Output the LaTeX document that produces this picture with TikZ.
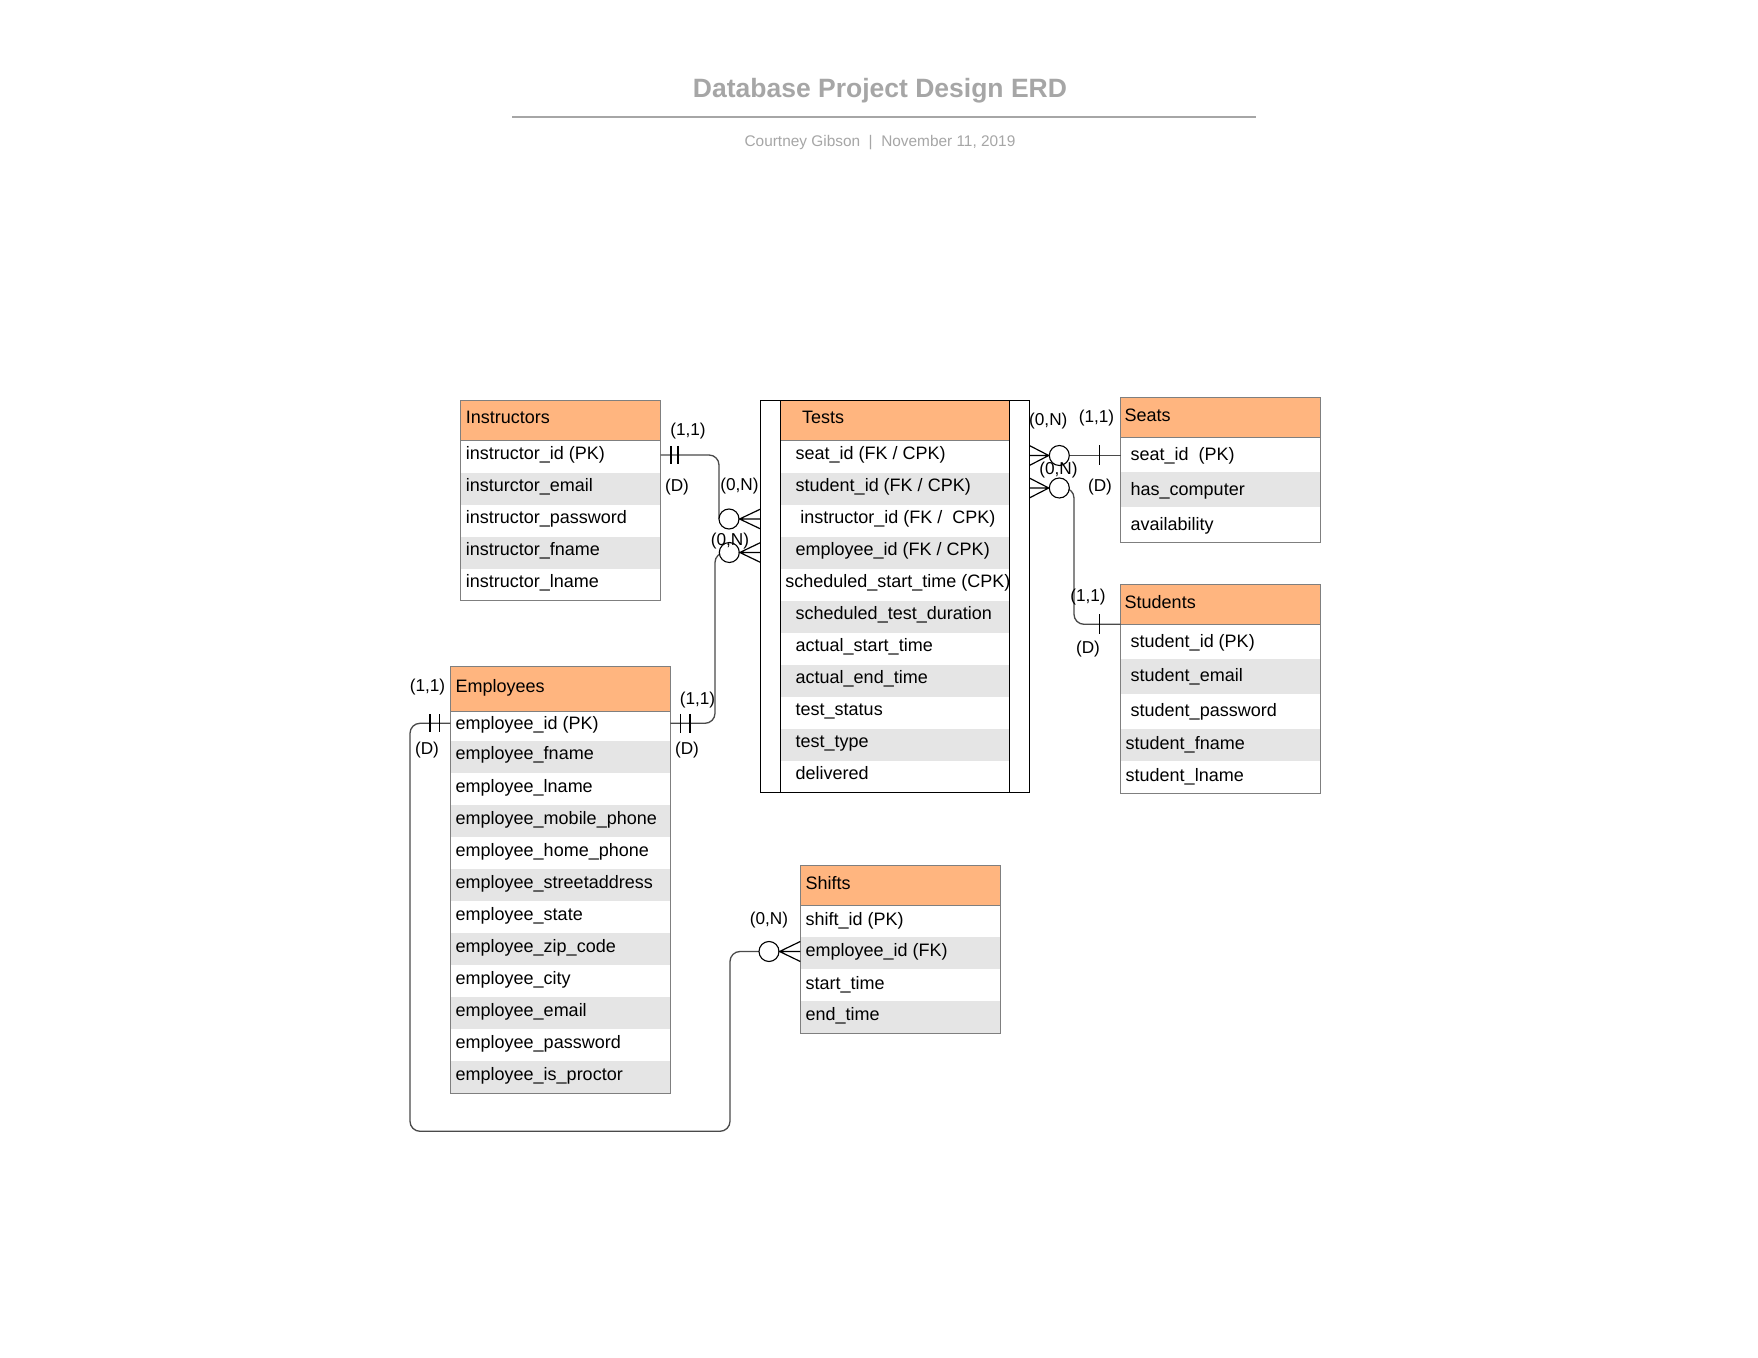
\documentclass[tikz,border=0pt]{standalone}
\usepackage{fontspec}
\setmainfont{Liberation Sans}
\usetikzlibrary{calc}

\definecolor{hdrfill}{HTML}{FFB57F}
\definecolor{stripe}{HTML}{E5E5E5}
\definecolor{boxedge}{HTML}{7F7F7F}
\definecolor{linkgray}{HTML}{4A4A4A}
\definecolor{titlegray}{HTML}{A6A6A6}

% shaded band of a table: left, top, right, bottom, colour
\newcommand\band[5]{\fill[#5] (#1,#2) rectangle (#3,#4);}
% crow's foot: tip on the ring, base point on the table edge
\newcommand\crowfoot[2]{%
  \draw[tick] ($(#2)+(0,-10)$) -- (#1) -- ($(#2)+(0,10)$) (#1) -- (#2);}

\begin{document}
\begin{tikzpicture}[x=0.5pt,y=-0.5pt,
  field/.style={anchor=west, inner sep=0pt, text height=6.5pt, text depth=3.5pt,
                font=\fontsize{9}{11}\selectfont},
  card/.style={inner sep=0pt, text height=6.2pt, text depth=0.5pt,
               font=\fontsize{8.6}{10}\selectfont},
  edgebox/.style={draw=boxedge, line width=0.5pt},
  link/.style={draw=linkgray, line width=0.65pt, rounded corners=5pt},
  tick/.style={draw=black, line width=0.6pt},
  ring/.style={circle, draw=black, line width=0.55pt, fill=white,
               minimum size=10pt, inner sep=0pt},
]
\fill[white] (0,0) rectangle (1758,1358);
\useasboundingbox (0,0) rectangle (1758,1358);

% ---------- heading ----------
\node[font=\bfseries\fontsize{13.25}{15}\selectfont, text=titlegray] (title) at (880,90.8) {Database Project Design ERD};
\draw[titlegray, line width=1pt] (512.4,116.7) -- (1255.7,116.7);
\node[font=\fontsize{7.7}{9}\selectfont, text=titlegray] (byline) at (880,142.2) {Courtney Gibson\ \ |\ \ November 11, 2019};

% ---------- Instructors ----------
\band{460.7}{400.7}{660.7}{440.7}{hdrfill}
\band{460.7}{472.7}{660.7}{504.7}{stripe}
\band{460.7}{536.7}{660.7}{568.7}{stripe}
\draw[edgebox] (460.7,400.7) rectangle (660.7,600.7) (460.7,440.7) -- (660.7,440.7);
\node[field] (ins-h) at (465.5,420.7) {Instructors};
\node[field] (ins-1) at (465.5,456.7) {instructor\_id (PK)};
\node[field] (ins-2) at (465.5,488.7) {insturctor\_email};
\node[field] (ins-3) at (465.5,520.7) {instructor\_password};
\node[field] (ins-4) at (465.5,552.7) {instructor\_fname};
\node[field] (ins-5) at (465.5,584.7) {instructor\_lname};
\coordinate (ins-pk) at (660.7,455);

% ---------- Tests ----------
\band{780.7}{400.7}{1009.3}{440.7}{hdrfill}
\band{780.7}{472.7}{1009.3}{504.7}{stripe}
\band{780.7}{536.7}{1009.3}{568.7}{stripe}
\band{780.7}{600.7}{1009.3}{632.7}{stripe}
\band{780.7}{664.7}{1009.3}{696.7}{stripe}
\band{780.7}{728.7}{1009.3}{760.7}{stripe}
\draw[edgebox] (780.7,440.7) -- (1009.3,440.7);
\draw[black, line width=0.6pt] (760.7,400.7) rectangle (1029.3,792.7)
  (780.7,400.7) -- (780.7,792.7) (1009.3,400.7) -- (1009.3,792.7);
\coordinate (tests-ow) at (760.7,400.7);
\coordinate (tests-oe) at (1029.3,400.7);
\node[field] (tst-h)  at (801.7,420.7) {Tests};
\node[field] (tst-1)  at (795.3,456.7) {seat\_id (FK / CPK)};
\node[field] (tst-2)  at (795.3,488.7) {student\_id (FK / CPK)};
\node[field] (tst-3)  at (800.0,520.7) {instructor\_id (FK /\ \ CPK)};
\node[field] (tst-4)  at (795.3,552.7) {employee\_id (FK / CPK)};
\node[field] (tst-5)  at (785.0,584.7) {scheduled\_start\_time (CPK)};
\node[field] (tst-6)  at (795.3,616.7) {scheduled\_test\_duration};
\node[field] (tst-7)  at (795.3,648.7) {actual\_start\_time};
\node[field] (tst-8)  at (795.3,680.7) {actual\_end\_time};
\node[field] (tst-9)  at (795.3,712.7) {test\_status};
\node[field] (tst-10) at (795.3,744.7) {test\_type};
\node[field] (tst-11) at (795.3,776.7) {delivered};

% ---------- Seats ----------
\band{1120.7}{397.3}{1320.7}{437.3}{hdrfill}
\band{1120.7}{472.3}{1320.7}{507.3}{stripe}
\draw[edgebox] (1120.7,397.3) rectangle (1320.7,542.3) (1120.7,437.3) -- (1320.7,437.3);
\node[field] (sea-h) at (1124.3,418.3) {Seats};
\node[field] (sea-1) at (1130.3,457.3) {seat\_id\ \ (PK)};
\node[field] (sea-2) at (1130.3,492.3) {has\_computer};
\node[field] (sea-3) at (1130.3,527.3) {availability};
\coordinate (seat-pk) at (1120.7,455.5);

% ---------- Students ----------
\band{1120.7}{585}{1320.7}{624.3}{hdrfill}
\band{1120.7}{659.3}{1320.7}{694.3}{stripe}
\band{1120.7}{729}{1320.7}{761}{stripe}
\draw[edgebox] (1120.7,585) rectangle (1320.7,793) (1120.7,624.3) -- (1320.7,624.3);
\node[field] (stu-h) at (1124.3,605.7) {Students};
\node[field] (stu-1) at (1130.3,644.0) {student\_id (PK)};
\node[field] (stu-2) at (1130.3,679.0) {student\_email};
\node[field] (stu-3) at (1130.3,714.0) {student\_password};
\node[field] (stu-4) at (1125.3,746.5) {student\_fname};
\node[field] (stu-5) at (1125.3,778.5) {student\_lname};
\coordinate (stu-hd) at (1120.7,624.3);

% ---------- Employees ----------
\band{450.3}{666.3}{670.3}{711.7}{hdrfill}
\band{450.3}{741}{670.3}{773}{stripe}
\band{450.3}{805}{670.3}{837}{stripe}
\band{450.3}{869}{670.3}{901}{stripe}
\band{450.3}{933}{670.3}{965}{stripe}
\band{450.3}{997}{670.3}{1029}{stripe}
\band{450.3}{1061}{670.3}{1093}{stripe}
\draw[edgebox] (450.3,666.3) rectangle (670.3,1093) (450.3,711.7) -- (670.3,711.7);
\node[field] (emp-h)  at (455.3,689.0) {Employees};
\node[field] (emp-1)  at (455.3,726.3) {employee\_id (PK)};
\node[field] (emp-2)  at (455.3,757.0) {employee\_fname};
\node[field] (emp-3)  at (455.3,789.0) {employee\_lname};
\node[field] (emp-4)  at (455.3,821.0) {employee\_mobile\_phone};
\node[field] (emp-5)  at (455.3,853.0) {employee\_home\_phone};
\node[field] (emp-6)  at (455.3,885.0) {employee\_streetaddress};
\node[field] (emp-7)  at (455.3,917.0) {employee\_state};
\node[field] (emp-8)  at (455.3,949.0) {employee\_zip\_code};
\node[field] (emp-9)  at (455.3,981.0) {employee\_city};
\node[field] (emp-10) at (455.3,1013.0) {employee\_email};
\node[field] (emp-11) at (455.3,1045.0) {employee\_password};
\node[field] (emp-12) at (455.3,1077.0) {employee\_is\_proctor};
\coordinate (emp-r) at (670.3,723.3);
\coordinate (emp-l) at (450.3,723.3);

% ---------- Shifts ----------
\band{800.3}{865.3}{1000.3}{905.3}{hdrfill}
\band{800.3}{937}{1000.3}{969}{stripe}
\band{800.3}{1001}{1000.3}{1033}{stripe}
\draw[edgebox] (800.3,865.3) rectangle (1000.3,1033) (800.3,905.3) -- (1000.3,905.3);
\node[field] (shf-h) at (805.3,886.3) {Shifts};
\node[field] (shf-1) at (805.3,922.0) {shift\_id (PK)};
\node[field] (shf-2) at (805.3,953.5) {employee\_id (FK)};
\node[field] (shf-3) at (805.3,986.0) {start\_time};
\node[field] (shf-4) at (805.3,1017.5) {end\_time};
\coordinate (shf-w) at (800.3,865.3);

% ---------- optional-many rings ----------
\path (729,519) coordinate (pI) (729.3,552.5) coordinate (pE)
      (1059.3,455.5) coordinate (pA) (1059.3,488) coordinate (pB)
      (769,951.5) coordinate (pF);
\coordinate (bendE) at (715,723.3);
\coordinate (bendB) at (1074,488);
\coordinate (loopSE) at (730,1131.3);
\coordinate (loopSW) at (410,1131.3);

% ---------- relationship lines ----------
\draw[link] (ins-pk) -| ($(pI)+(-10,0)$);
\draw[link] (emp-r) -- (bendE) |- (pE);
\draw[link] (pA) -- (seat-pk);
\draw[link] (pB) -- (bendB) |- (stu-hd);
\draw[link] (pF) -| (loopSE) -- (loopSW) |- (emp-l);

\node[ring] (ringI) at (pI) {};
\node[ring] (ringE) at (pE) {};
\node[ring] (ringA) at (pA) {};
\node[ring] (ringB) at (pB) {};
\node[ring] (ringF) at (pF) {};

\crowfoot{ringI.east}{ringI.east -| tests-ow}
\crowfoot{ringE.east}{ringE.east -| tests-ow}
\crowfoot{ringA.west}{ringA.west -| tests-oe}
\crowfoot{ringB.west}{ringB.west -| tests-oe}
\crowfoot{ringF.east}{ringF.east -| shf-w}

% one-and-only-one bars
\draw[tick] ($(ins-pk)+(10.3,-9)$) -- ++(0,18) ($(ins-pk)+(17.3,-9)$) -- ++(0,18);
\draw[tick] ($(emp-r)+(10.4,-9.5)$) -- ++(0,19) ($(emp-r)+(19.7,-9.5)$) -- ++(0,19);
\draw[tick] ($(emp-l)+(-20.3,-9)$) -- ++(0,18) ($(emp-l)+(-11,-9)$) -- ++(0,18);
\draw[tick] ($(seat-pk)+(-21.4,-10)$) -- ++(0,20);
\draw[tick] ($(stu-hd)+(-21.4,-10)$) -- ++(0,20);

% ---------- cardinality labels ----------
\node[card] (c1)  at (688,430)     {(1,1)};
\node[card] (c2)  at (677,486)     {(D)};
\node[card] (c3)  at (739.5,485)   {(0,N)};
\node[card] (c4)  at (730,539.5)   {(0,N)};
\node[card] (c5)  at (697.5,699)   {(1,1)};
\node[card] (c6)  at (687,749)     {(D)};
\node[card] (c7)  at (427.5,686)   {(1,1)};
\node[card] (c8)  at (427,749)     {(D)};
\node[card] (c9)  at (769,919)     {(0,N)};
\node[card] (c10) at (1048.3,419.5) {(0,N)};
\node[card] (c11) at (1096.5,416.5) {(1,1)};
\node[card] (c12) at (1058.4,469)  {(0,N)};
\node[card] (c13) at (1100,486)    {(D)};
\node[card] (c14) at (1088,596)    {(1,1)};
\node[card] (c15) at (1088,647.5)  {(D)};
\end{tikzpicture}
\end{document}
